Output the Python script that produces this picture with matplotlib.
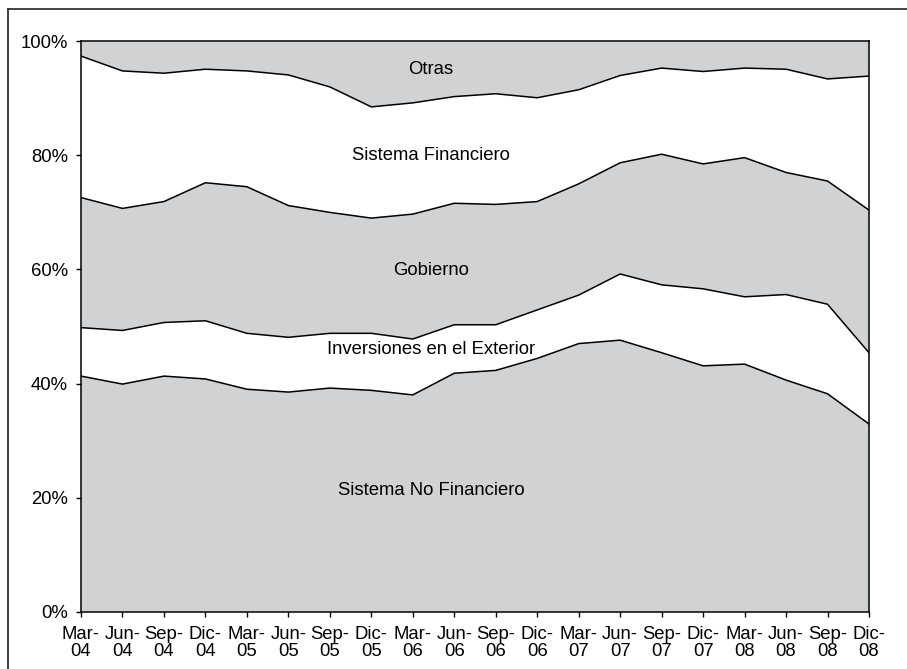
import numpy as np
import matplotlib
matplotlib.use("Agg")
import matplotlib.pyplot as plt
from matplotlib.lines import Line2D

plt.rcParams["font.family"] = ["Liberation Sans", "DejaVu Sans"]

# quarters (Mar-04 .. Dic-08)
periods = ["Mar-\n04", "Jun-\n04", "Sep-\n04", "Dic-\n04",
           "Mar-\n05", "Jun-\n05", "Sep-\n05", "Dic-\n05",
           "Mar-\n06", "Jun-\n06", "Sep-\n06", "Dic-\n06",
           "Mar-\n07", "Jun-\n07", "Sep-\n07", "Dic-\n07",
           "Mar-\n08", "Jun-\n08", "Sep-\n08", "Dic-\n08"]

# shares of total (%), bottom to top
no_financiero = [41.3, 39.9, 41.3, 40.8, 39.0, 38.5, 39.2, 38.8, 38.0, 41.8,
                 42.3, 44.4, 47.0, 47.6, 45.4, 43.1, 43.4, 40.6, 38.2, 32.9]
exterior      = [8.5, 9.4, 9.4, 10.2, 9.8, 9.6, 9.6, 10.0, 9.8, 8.5,
                 8.0, 8.5, 8.5, 11.6, 11.9, 13.5, 11.8, 15.0, 15.7, 12.5]
gobierno      = [22.8, 21.4, 21.2, 24.2, 25.7, 23.1, 21.2, 20.2, 21.9, 21.3,
                 21.1, 19.0, 19.5, 19.5, 22.9, 21.9, 24.4, 21.4, 21.6, 25.0]
financiero    = [24.8, 24.1, 22.5, 19.9, 20.3, 22.9, 22.0, 19.5, 19.5, 18.7,
                 19.4, 18.2, 16.5, 15.3, 15.1, 16.2, 15.7, 18.1, 17.9, 23.5]
otras         = [2.6, 5.2, 5.6, 4.9, 5.2, 5.9, 8.0, 11.5, 10.8, 9.7,
                 9.2, 9.9, 8.5, 6.0, 4.7, 5.3, 4.7, 4.9, 6.6, 6.1]

series = [no_financiero, exterior, gobierno, financiero, otras]
names = ["Sistema No Financiero", "Inversiones en el Exterior", "Gobierno",
         "Sistema Financiero", "Otras"]
label_y = [21.3, 46.0, 59.9, 79.9, 95.1]

GREY = "#d1d2d4"
fills = [GREY, "white", GREY, "white", GREY]
FS = 13.3

fig = plt.figure(figsize=(9.07, 6.69), dpi=100)
ax = fig.add_axes([0.0893, 0.0857, 0.8688, 0.8526])

x = np.arange(len(periods))
data = np.array(series)
ax.stackplot(x, data, colors=fills, edgecolor="none")
cum = np.cumsum(data, axis=0)
for row in cum[:-1]:
    ax.plot(x, row, color="black", linewidth=1.1)

for name, yv in zip(names, label_y):
    ax.text(0.444, yv, name, transform=ax.get_yaxis_transform(),
            ha="center", va="center", fontsize=FS)

ax.set_xlim(0, len(periods) - 1)
ax.set_ylim(0, 100)
ax.set_xticks(x)
ax.set_xticklabels(periods, fontsize=FS, linespacing=1.0)
ax.set_yticks(np.arange(0, 101, 20))
ax.set_yticklabels([f"{v}%" for v in range(0, 101, 20)], fontsize=FS)
ax.tick_params(axis="both", direction="out", length=3.5, width=1)
ax.tick_params(axis="y", pad=6)
ax.tick_params(axis="x", pad=6.5)
for s in ax.spines.values():
    s.set_linewidth(1.1)

# outer chart frame (top and left edges visible)
fig.add_artist(Line2D([0.0085, 0.0085], [0.0, 0.9865], transform=fig.transFigure,
                      color="#333333", linewidth=1.3))
fig.add_artist(Line2D([0.0085, 1.0], [0.9865, 0.9865], transform=fig.transFigure,
                      color="#333333", linewidth=1.3))

fig.savefig("out.png", dpi=100)
plt.close(fig)
